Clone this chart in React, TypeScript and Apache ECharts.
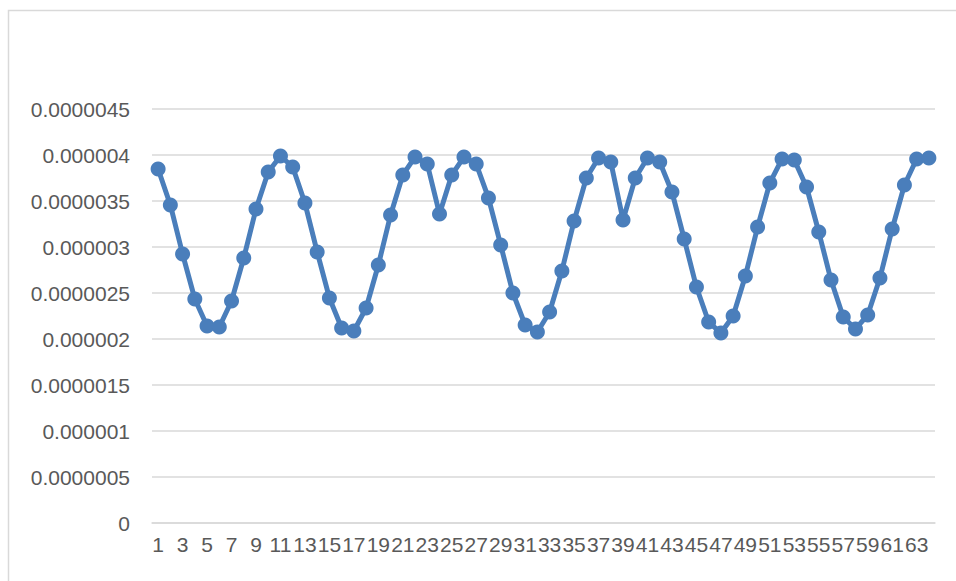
import React, { useEffect, useRef } from "react";
import * as echarts from "echarts";

const categories: string[] = Array.from({ length: 64 }, (_, i) => String(i + 1));

const values: number[] = [
  3.848e-6, 3.457e-6, 2.924e-6, 2.435e-6, 2.141e-6, 2.13e-6, 2.413e-6, 2.88e-6,
  3.413e-6, 3.815e-6, 3.989e-6, 3.87e-6, 3.478e-6, 2.946e-6, 2.446e-6, 2.12e-6,
  2.087e-6, 2.337e-6, 2.804e-6, 3.348e-6, 3.783e-6, 3.978e-6, 3.902e-6, 3.359e-6,
  3.783e-6, 3.978e-6, 3.902e-6, 3.533e-6, 3.022e-6, 2.5e-6, 2.152e-6, 2.076e-6,
  2.293e-6, 2.739e-6, 3.283e-6, 3.75e-6, 3.967e-6, 3.924e-6, 3.293e-6, 3.75e-6,
  3.967e-6, 3.924e-6, 3.598e-6, 3.087e-6, 2.565e-6, 2.185e-6, 2.065e-6, 2.25e-6,
  2.685e-6, 3.217e-6, 3.696e-6, 3.957e-6, 3.946e-6, 3.652e-6, 3.163e-6, 2.641e-6,
  2.239e-6, 2.109e-6, 2.261e-6, 2.663e-6, 3.196e-6, 3.674e-6, 3.957e-6, 3.967e-6,
];

const yTickLabels: string[] = [
  "0", "0.0000005", "0.000001", "0.0000015", "0.000002",
  "0.0000025", "0.000003", "0.0000035", "0.000004", "0.0000045",
];

const Y_STEP = 0.0000005;
const Y_MAX = 0.0000045;

export default function App() {
  const ref = useRef<HTMLDivElement>(null);

  useEffect(() => {
    if (!ref.current) return;
    const chart = echarts.init(ref.current, undefined, { renderer: "svg" });
    const font = "'Liberation Sans', Arial, sans-serif";
    chart.setOption({
      animation: false,
      backgroundColor: "#ffffff",
      graphic: [
        {
          type: "rect",
          shape: { x: 8.5, y: 10.5, width: 1000, height: 1000 },
          style: { fill: "none", stroke: "#d9d9d9", lineWidth: 1.5 },
          silent: true,
        },
      ],
      grid: { left: 152, right: 21, top: 109, bottom: 58, containLabel: false },
      xAxis: {
        type: "category",
        data: categories,
        boundaryGap: true,
        axisLine: { show: true, lineStyle: { color: "#d9d9d9", width: 1.5 } },
        axisTick: { show: false },
        axisLabel: {
          interval: 1,
          color: "#595959",
          fontFamily: font,
          fontSize: 21,
          margin: 11,
        },
        splitLine: { show: false },
      },
      yAxis: {
        type: "value",
        min: 0,
        max: Y_MAX,
        interval: Y_STEP,
        axisLine: { show: false },
        axisTick: { show: false },
        splitLine: { show: true, lineStyle: { color: "#d9d9d9", width: 1.5 } },
        axisLabel: {
          color: "#595959",
          fontFamily: font,
          fontSize: 21,
          margin: 22,
          formatter: (v: number) => {
            const idx = Math.round(v / Y_STEP);
            return yTickLabels[idx] ?? "";
          },
        },
      },
      series: [
        {
          type: "line",
          data: values,
          symbol: "circle",
          symbolSize: 15,
          showAllSymbol: true,
          lineStyle: { color: "#4a7ebb", width: 5 },
          itemStyle: { color: "#4a7ebb" },
        },
      ],
    });
    return () => chart.dispose();
  }, []);

  return (
    <div
      ref={ref}
      style={{ position: "fixed", left: 0, top: 0, width: 956, height: 581 }}
    />
  );
}
